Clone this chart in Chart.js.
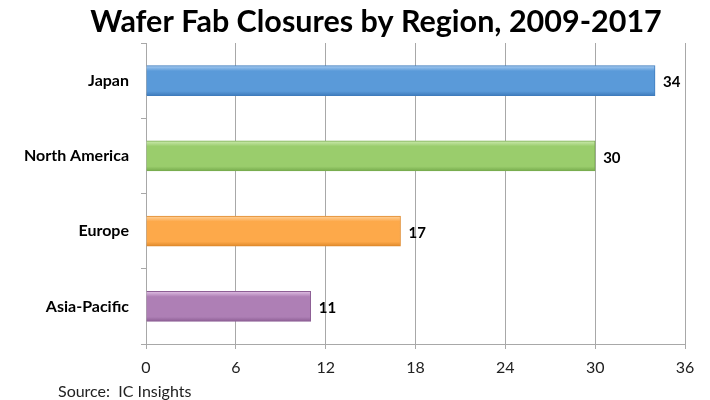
<!DOCTYPE html>
<html>
<head>
<meta charset="utf-8">
<script src="https://cdn.jsdelivr.net/npm/chart.js@4/dist/chart.umd.min.js"></script>
<style>
  html, body { margin: 0; padding: 0; background: #fff; }
  #wrap { width: 710px; height: 400px; position: relative; }
</style>
</head>
<body>
<div id="wrap"><canvas id="fabChart" width="710" height="400"></canvas></div>
<script>
// Chart data
const regions = ["Japan", "North America", "Europe", "Asia-Pacific"];
const closures = [34, 30, 17, 11];
const xTicks = [0, 6, 12, 18, 24, 30, 36];
const barColors = ["#5a9ad9", "#9acd6c", "#fda94a", "#ae7fb5"];
const barLight = ["#a9cdf2", "#cdeab0", "#ffd29c", "#e0bfe4"];
const barDark = ["#3f7cbd", "#78ac4e", "#e08a2c", "#8d5f95"];

const FONT = "Lato, 'Liberation Sans', sans-serif";
const BAR_H = 30;

/**
 * Vertical gradient for each bar, built from the category's pixel position
 */
function barGradient(context) {
  const chart = context.chart;
  const i = context.dataIndex;
  if (i === undefined) return barColors[0];
  const yScale = chart.scales.y;
  const mid = yScale ? yScale.getPixelForValue(i) : NaN;
  if (!Number.isFinite(mid)) return barColors[i];
  const g = chart.ctx.createLinearGradient(0, mid - BAR_H / 2, 0, mid + BAR_H / 2);
  g.addColorStop(0, barLight[i]);
  g.addColorStop(0.18, barColors[i]);
  g.addColorStop(0.85, barColors[i]);
  g.addColorStop(1, barDark[i]);
  return g;
}

// Title, source note and value labels
const extrasPlugin = {
  id: "extras",
  afterDatasetsDraw(chart) {
    const ctx = chart.ctx;
    const meta = chart.getDatasetMeta(0);
    ctx.save();
    ctx.fillStyle = "#000";
    ctx.font = "bold 15px " + FONT;
    ctx.textAlign = "left";
    ctx.textBaseline = "middle";
    meta.data.forEach((bar, i) => {
      ctx.fillText(String(closures[i]), bar.x + 8, bar.y + 2);
    });
    ctx.restore();
  },
  afterDraw(chart) {
    const ctx = chart.ctx;
    ctx.save();
    ctx.fillStyle = "#000";
    ctx.font = "bold 30.5px " + FONT;
    ctx.textAlign = "center";
    ctx.textBaseline = "alphabetic";
    ctx.fillText("Wafer Fab Closures by Region, 2009-2017", 376, 32);
    ctx.font = "16px " + FONT;
    ctx.textAlign = "left";
    ctx.fillStyle = "#222";
    ctx.fillText("Source:  IC Insights", 58, 397);
    ctx.restore();
  },
};

new Chart(document.getElementById("fabChart"), {
  type: "bar",
  data: {
    labels: regions,
    datasets: [
      {
        data: closures,
        backgroundColor: barGradient,
        borderColor: barDark,
        borderWidth: 1,
        barThickness: BAR_H,
      },
    ],
  },
  options: {
    indexAxis: "y",
    responsive: false,
    animation: false,
    layout: {
      padding: { top: 43, right: 25, bottom: 0, left: 0 },
    },
    plugins: {
      legend: { display: false },
      tooltip: { enabled: false },
      title: { display: false },
    },
    scales: {
      x: {
        min: 0,
        max: 36,
        afterBuildTicks: (scale) => {
          scale.ticks = xTicks.map((v) => ({ value: v }));
        },
        afterFit: (scale) => {
          scale.height = 56;
        },
        grid: {
          color: "#a8a8a8",
          lineWidth: 1,
          drawTicks: true,
          tickLength: 5,
        },
        border: { color: "#a8a8a8", width: 1 },
        ticks: {
          color: "#222",
          padding: 9,
          font: { family: FONT, size: 16 },
        },
      },
      y: {
        afterFit: (scale) => {
          scale.width = 146;
        },
        grid: {
          offset: true,
          drawOnChartArea: false,
          drawTicks: true,
          tickLength: 5,
          color: "#a8a8a8",
        },
        border: { color: "#a8a8a8", width: 1 },
        ticks: {
          color: "#000",
          padding: 12,
          font: { family: FONT, size: 16, weight: "bold" },
        },
      },
    },
  },
  plugins: [extrasPlugin],
});
</script>
</body>
</html>
